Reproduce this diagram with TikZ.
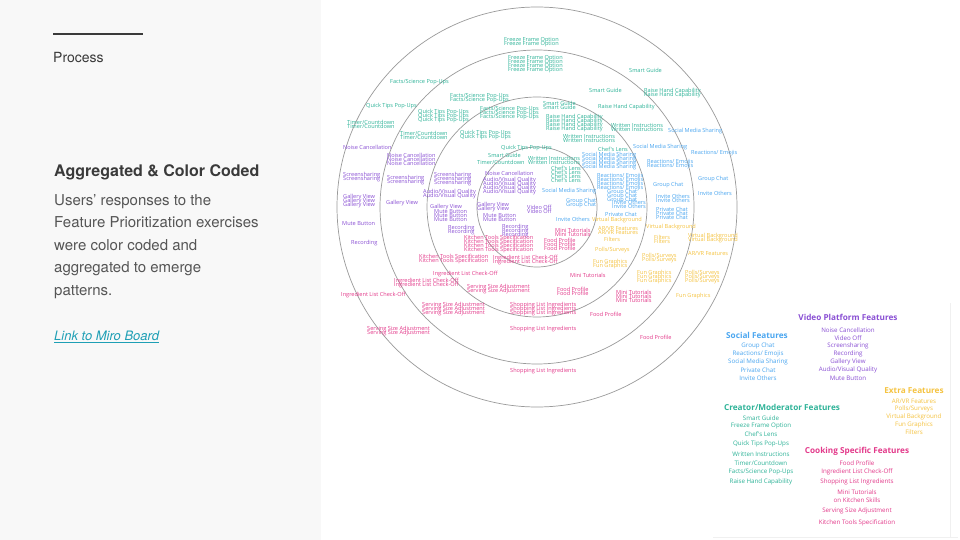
\documentclass[tikz,border=0pt]{standalone}
\usepackage{fontspec}
\setmainfont{TeX Gyre Heros}
\newfontfamily\osans{Open Sans}
\definecolor{cT}{HTML}{2EB398}
\definecolor{cP}{HTML}{8A50D4}
\definecolor{cB}{HTML}{4AA6F0}
\definecolor{cY}{HTML}{F5C341}
\definecolor{cK}{HTML}{E3398A}
\definecolor{ringc}{HTML}{9A9A9A}
\definecolor{panelc}{HTML}{F8F8F8}
\definecolor{headc}{HTML}{3A3A3A}
\definecolor{bodyc}{HTML}{555555}
\definecolor{linkc}{HTML}{1E9FB5}
\definecolor{edgec}{HTML}{F0F0F0}
\newcommand{\wc}[5]{\foreach \k in {1,...,#4}{\node[wcl,text=#1] (w#2-#3-\k) at (#2,{#3+(\k-1)*4}) {#5};}}
\begin{document}
\begin{tikzpicture}[x=1pt,y=-1pt,
  wcl/.style={anchor=west,inner sep=0pt,font=\osans\fontsize{5.6}{6}\selectfont},
  ring/.style={draw=ringc,line width=0.7pt},
  lg/.style={inner sep=0pt,font=\osans\fontsize{6.2}{7}\selectfont},
  lgt/.style={inner sep=0pt,font=\osans\bfseries\fontsize{8.2}{9}\selectfont},
  lt/.style={anchor=base west,inner sep=0pt,text=bodyc,font=\fontsize{15}{18}\selectfont}]
\useasboundingbox (0,0) rectangle (960,540);
\fill[white] (0,0) rectangle (960,540);
\fill[panelc] (0,0) rectangle (321,540);

% ---- left panel ----
\coordinate (hl1) at (53,34);
\coordinate (hl2) at (143,34);
\draw[headc,line width=2pt] (hl1) -- (hl2);
\node[anchor=base west,inner sep=0pt,text=headc,font=\fontsize{14}{16}\selectfont] (proc) at (53,63) {Process};
\node[anchor=base west,inner sep=0pt,text=headc,font=\bfseries\fontsize{16}{18}\selectfont] (ttl) at (54,176) {Aggregated \& Color Coded};
\node[lt] (b1) at (54,205) {Users’ responses to the};
\node[lt] (b2) at (54,227.5) {Feature Prioritization exercises};
\node[lt] (b3) at (54,250) {were color coded and};
\node[lt] (b4) at (54,272.5) {aggregated to emerge};
\node[lt] (b5) at (54,295) {patterns.};
\node[anchor=base west,inner sep=0pt,text=linkc,font=\itshape\fontsize{13}{15}\selectfont] (link) at (54,340) {Link to Miro Board};
\draw[linkc,line width=0.6pt] ([yshift=-1.8pt]link.base west) -- ([yshift=-1.8pt]link.base east);

% ---- rings ----
\coordinate (ctr) at (537,207);
\draw[ring] (ctr) circle[radius=200];
\draw[ring] (ctr) circle[radius=157];
\draw[ring] (ctr) circle[radius=110];
\draw[ring] (ctr) circle[radius=60];

% ---- creator / moderator (teal) ----
\wc{cT}{504}{40}{2}{Freeze Frame Option}
\wc{cT}{508}{58}{4}{Freeze Frame Option}
\wc{cT}{390}{82}{1}{Facts/Science Pop-Ups}
\wc{cT}{450}{96}{2}{Facts/Science Pop-Ups}
\wc{cT}{480}{109}{3}{Facts/Science Pop-Ups}
\wc{cT}{366}{106}{1}{Quick Tips Pop-Ups}
\wc{cT}{418}{112}{3}{Quick Tips Pop-Ups}
\wc{cT}{347}{122}{2}{Timer/Countdown}
\wc{cT}{400}{133}{2}{Timer/Countdown}
\wc{cT}{460}{133}{2}{Quick Tips Pop-Ups}
\wc{cT}{629}{70}{1}{Smart Guide}
\wc{cT}{589}{90}{1}{Smart Guide}
\wc{cT}{644}{91}{2}{Raise Hand Capability}
\wc{cT}{543}{103}{2}{Smart Guide}
\wc{cT}{598}{107}{1}{Raise Hand Capability}
\wc{cT}{546}{117}{4}{Raise Hand Capability}
\wc{cT}{611}{125}{2}{Written Instructions}
\wc{cT}{563}{136}{2}{Written Instructions}
\wc{cT}{598}{149}{1}{Chef's Lens}
\wc{cT}{501}{148}{1}{Quick Tips Pop-Ups}
\wc{cT}{488}{155}{1}{Smart Guide}
\wc{cT}{477}{162}{1}{Timer/Countdown}
\wc{cT}{528}{158}{2}{Written Instructions}
\wc{cT}{551}{168}{4}{Chef's Lens}

% ---- social (blue) ----
\wc{cB}{668}{131}{1}{Social Media Sharing}
\wc{cB}{633}{147}{1}{Social Media Sharing}
\wc{cB}{691}{153}{1}{Reactions/ Emojis}
\wc{cB}{582}{155}{4}{Social Media Sharing}
\wc{cB}{647}{162}{2}{Reactions/ Emojis}
\wc{cB}{597}{176}{4}{Reactions/ Emojis}
\wc{cB}{698}{179}{1}{Group Chat}
\wc{cB}{653}{185}{1}{Group Chat}
\wc{cB}{542}{191}{1}{Social Media Sharing}
\wc{cB}{698}{193}{1}{Invite Others}
\wc{cB}{607}{192}{3}{Group Chat}
\wc{cB}{656}{196}{2}{Invite Others}
\wc{cB}{566}{201}{2}{Group Chat}
\wc{cB}{612}{202}{2}{Invite Others}
\wc{cB}{656}{209}{3}{Private Chat}
\wc{cB}{605}{214}{1}{Private Chat}
\wc{cB}{556}{219}{1}{Invite Others}

% ---- extra (yellow) ----
\wc{cY}{592}{220}{1}{Virtual Background}
\wc{cY}{646}{227}{1}{Virtual Background}
\wc{cY}{598}{229}{2}{AR/VR Features}
\wc{cY}{688}{236}{2}{Virtual Background}
\wc{cY}{604}{239}{1}{Filters}
\wc{cY}{654}{237}{2}{Filters}
\wc{cY}{595}{250}{1}{Polls/Surveys}
\wc{cY}{688}{254}{1}{AR/VR Features}
\wc{cY}{642}{256}{2}{Polls/Surveys}
\wc{cY}{593}{262}{2}{Fun Graphics}
\wc{cY}{637}{273}{3}{Fun Graphics}
\wc{cY}{685}{273}{3}{Polls/Surveys}
\wc{cY}{676}{296}{1}{Fun Graphics}

% ---- video platform (purple) ----
\wc{cP}{343}{147}{1}{Noise Cancellation}
\wc{cP}{387}{155}{3}{Noise Cancellation}
\wc{cP}{485}{173}{1}{Noise Cancellation}
\wc{cP}{343}{175}{2}{Screensharing}
\wc{cP}{387}{178}{2}{Screensharing}
\wc{cP}{434}{175}{3}{Screensharing}
\wc{cP}{483}{180}{4}{Audio/Visual Quality}
\wc{cP}{423}{192}{2}{Audio/Visual Quality}
\wc{cP}{343}{197}{3}{Gallery View}
\wc{cP}{386}{203}{1}{Gallery View}
\wc{cP}{430}{207}{1}{Gallery View}
\wc{cP}{477}{205}{2}{Gallery View}
\wc{cP}{527}{207}{2}{Video Off}
\wc{cP}{434}{212}{3}{Mute Button}
\wc{cP}{483}{216}{2}{Mute Button}
\wc{cP}{342}{224}{1}{Mute Button}
\wc{cP}{448}{228}{2}{Recording}
\wc{cP}{502}{227}{3}{Recording}
\wc{cP}{351}{243}{1}{Recording}

% ---- cooking (pink) ----
\wc{cK}{464}{238}{4}{Kitchen Tools Specification}
\wc{cK}{555}{230}{2}{Mini Tutorials}
\wc{cK}{544}{240}{3}{Food Profile}
\wc{cK}{419}{257}{2}{Kitchen Tools Specification}
\wc{cK}{493}{258}{2}{Ingredient List Check-Off}
\wc{cK}{433}{274}{1}{Ingredient List Check-Off}
\wc{cK}{394}{281}{2}{Ingredient List Check-Off}
\wc{cK}{341}{295}{1}{Ingredient List Check-Off}
\wc{cK}{467}{287}{2}{Serving Size Adjustment}
\wc{cK}{422}{305}{3}{Serving Size Adjustment}
\wc{cK}{367}{329}{2}{Serving Size Adjustment}
\wc{cK}{510}{305}{3}{Shopping List Ingredients}
\wc{cK}{510}{329}{1}{Shopping List Ingredients}
\wc{cK}{510}{371}{1}{Shopping List Ingredients}
\wc{cK}{570}{275}{1}{Mini Tutorials}
\wc{cK}{557}{289}{2}{Food Profile}
\wc{cK}{616}{292}{3}{Mini Tutorials}
\wc{cK}{590}{314}{1}{Food Profile}
\wc{cK}{640}{337}{1}{Food Profile}

% ---- legend ----
\coordinate (e1) at (713,537);
\coordinate (e2) at (958,537);
\coordinate (e3) at (950,303);
\draw[edgec,line width=0.8pt] (e1) -- (e2);
\draw[edgec,line width=0.5pt] (e3) -- (e3 |- e1);

\node[lgt,text=cP] (vpt) at (848,317) {Video Platform Features};
\node[lg,text=cP] (vp1) at (848,330) {Noise Cancellation};
\node[lg,text=cP] (vp2) at (848,338) {Video Off};
\node[lg,text=cP] (vp3) at (848,346) {Screensharing};
\node[lg,text=cP] (vp4) at (848,354) {Recording};
\node[lg,text=cP] (vp5) at (848,362) {Gallery View};
\node[lg,text=cP] (vp6) at (848,370) {Audio/Visual Quality};
\node[lg,text=cP] (vp7) at (848,378) {Mute Button};

\node[lgt,text=cB] (sft) at (757,335) {Social Features};
\node[lg,text=cB] (sf1) at (758,346) {Group Chat};
\node[lg,text=cB] (sf2) at (758,354) {Reactions/ Emojis};
\node[lg,text=cB] (sf3) at (758,362) {Social Media Sharing};
\node[lg,text=cB] (sf4) at (758,370) {Private Chat};
\node[lg,text=cB] (sf5) at (758,378) {Invite Others};

\node[lgt,text=cY] (eft) at (914,391) {Extra Features};
\node[lg,text=cY] (ef1) at (914,401) {AR/VR Features};
\node[lg,text=cY] (ef2) at (914,409) {Polls/Surveys};
\node[lg,text=cY] (ef3) at (914,416.5) {Virtual Background};
\node[lg,text=cY] (ef4) at (914,424.5) {Fun Graphics};
\node[lg,text=cY] (ef5) at (914,432.5) {Filters};

\node[lgt,text=cT] (cmt) at (782,407) {Creator/Moderator Features};
\node[lg,text=cT] (cm1) at (761,418) {Smart Guide};
\node[lg,text=cT] (cm2) at (761,426) {Freeze Frame Option};
\node[lg,text=cT] (cm3) at (761,434) {Chef's Lens};
\node[lg,text=cT] (cm4) at (761,444) {Quick Tips Pop-Ups};
\node[lg,text=cT] (cm5) at (761,454) {Written Instructions};
\node[lg,text=cT] (cm6) at (761,463) {Timer/Countdown};
\node[lg,text=cT] (cm7) at (761,472) {Facts/Science Pop-Ups};
\node[lg,text=cT] (cm8) at (761,482) {Raise Hand Capability};

\node[lgt,text=cK] (cst) at (857,451) {Cooking Specific Features};
\node[lg,text=cK] (cs1) at (857,463) {Food Profile};
\node[lg,text=cK] (cs2) at (857,472) {Ingredient List Check-Off};
\node[lg,text=cK] (cs3) at (857,482) {Shopping List Ingredients};
\node[lg,text=cK] (cs4) at (857,492) {Mini Tutorials};
\node[lg,text=cK] (cs5) at (857,500.5) {on Kitchen Skills};
\node[lg,text=cK] (cs6) at (857,511) {Serving Size Adjustment};
\node[lg,text=cK] (cs7) at (857,523) {Kitchen Tools Specification};
\end{tikzpicture}
\end{document}
